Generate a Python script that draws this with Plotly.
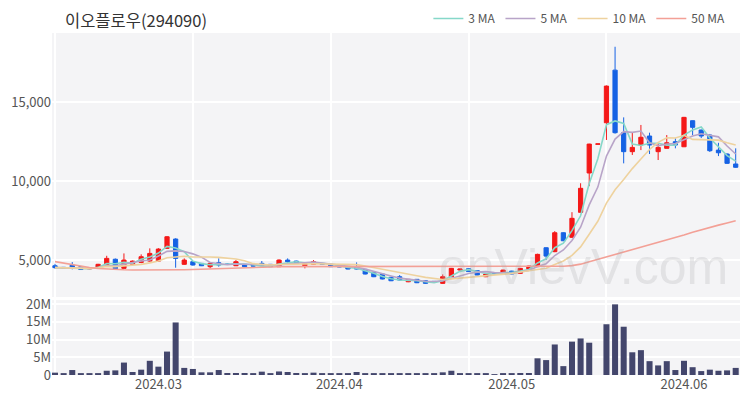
import plotly.graph_objects as go
import pandas as pd

# ---- data ----
opens = [4640, 4540, 4680, 4580, 4440, 4475, 4685, 5050, 4475, 4730,
         4850, 4935, 4935, 5740, 6330, 4730, 4895, 4790, 4580, 4830,
         4750, 4640, 4730, 4660, 4790, 4730, 4580, 5000, 4935, 4640,
         4730, 4760, 4730, 4600, 4580, 4580, 4410, 4220, 4115, 3905,
         3945, 3625, 3780, 3690, 3650, 3525, 3945, 4370, 4450, 4330,
         3945, 4180, 4200, 4300, 4160, 4410, 4580, 5780, 5530, 6730,
         6440, 8020, 10510, 12330, 13690, 17020, 13060, 11860, 12280, 12850,
         11860, 12070, 12490, 12170, 13820, 13230, 12910, 11960, 11710, 11080]
highs = [4760, 4560, 4870, 4600, 4510, 4760, 5270, 5100, 5420, 4970,
         5360, 5740, 5750, 6520, 6380, 5105, 4940, 4810, 4810, 5105,
         4770, 5000, 4750, 4680, 4940, 4750, 5040, 5105, 4960, 4810,
         5000, 4780, 4750, 4620, 4600, 4850, 4430, 4240, 4130, 3920,
         4050, 3800, 3800, 3710, 3670, 4090, 4500, 4440, 4500, 4350,
         4130, 4200, 4390, 4320, 4500, 4640, 5400, 5800, 6830, 6750,
         8030, 9860, 12360, 12350, 16050, 18500, 14030, 13060, 13550, 13060,
         12390, 12910, 12700, 14060, 13830, 13250, 12980, 12420, 11750, 12070]
lows = [4450, 4480, 4410, 4370, 4420, 4450, 4650, 4400, 4450, 4700,
        4800, 4900, 4900, 5700, 4515, 4700, 4650, 4620, 4475, 4580,
        4700, 4620, 4560, 4600, 4620, 4560, 4560, 4790, 4770, 4475,
        4700, 4700, 4560, 4550, 4410, 4410, 4090, 3920, 3780, 3670,
        3710, 3600, 3540, 3500, 3600, 3500, 3920, 4320, 4250, 4030,
        3920, 4130, 4180, 4090, 4140, 4390, 4560, 5000, 5500, 6200,
        6400, 7990, 9680, 12330, 12600, 13000, 11120, 11650, 11960, 11710,
        11330, 12070, 12070, 12150, 12910, 12720, 11840, 11580, 11080, 10840]
closes = [4520, 4500, 4470, 4400, 4480, 4730, 5105, 4450, 5000, 4935,
          5210, 5420, 5695, 6475, 5105, 5000, 4685, 4640, 4790, 4685,
          4720, 4895, 4580, 4620, 4640, 4580, 5000, 4895, 4790, 4790,
          4895, 4720, 4580, 4570, 4430, 4430, 4115, 3945, 3800, 3690,
          3735, 3780, 3565, 3525, 3620, 3945, 4475, 4430, 4270, 4050,
          4115, 4150, 4365, 4115, 4475, 4620, 5360, 5250, 6730, 6220,
          7640, 9540, 12340, 12350, 16010, 13060, 11860, 12130, 12770, 12280,
          12130, 12420, 12280, 14030, 13400, 12850, 11920, 11790, 11120, 10870]
volumes = [0.66, 0.47, 1.4, 0.5, 0.5, 0.5, 1.2, 1.3, 3.5, 0.85,
           1.5, 4.0, 2.35, 6.6, 14.8, 2.0, 1.7, 0.75, 0.75, 1.4,
           0.56, 0.56, 0.56, 0.28, 0.94, 0.28, 1.0, 0.85, 0.56, 0.47,
           0.66, 0.28, 0.28, 0.28, 0.47, 0.85, 0.47, 0.47, 0.47, 0.28,
           0.28, 0.28, 0.28, 0.28, 0.28, 0.75, 1.2, 0.37, 0.3, 0.3,
           0.3, 0.2, 0.37, 0.3, 0.56, 0.56, 4.7, 4.2, 8.6, 2.5,
           9.4, 10.3, 9.1, 0.0, 14.3, 19.9, 13.6, 6.4, 7.0, 3.9,
           2.7, 3.9, 1.4, 4.0, 2.2, 1.1, 1.5, 1.2, 1.3, 2.0]  # millions
ma50 = [4900, 4800, 4700, 4610, 4530, 4470, 4430, 4400, 4385, 4375,
        4370, 4370, 4370, 4375, 4380, 4390, 4400, 4420, 4445, 4470,
        4500, 4525, 4545, 4560, 4570, 4575, 4580, 4585, 4585, 4580,
        4580, 4585, 4590, 4585, 4580, 4575, 4575, 4580, 4580, 4585,
        4580, 4575, 4570, 4570, 4575, 4580, 4580, 4585, 4580, 4580,
        4575, 4575, 4580, 4580, 4580, 4585, 4585, 4590, 4600, 4610,
        4650, 4740, 4890, 5040, 5210, 5380, 5530, 5670, 5820, 5970,
        6110, 6260, 6410, 6590, 6760, 6920, 7070, 7210, 7350, 7490]
tick_pos = [12, 33, 53, 73]
tick_labels = ["2024.03", "2024.04", "2024.05", "2024.06"]
grid_pos = [0, 16, 32, 48, 64]
title_text = "이오플로우(294090)"

x = list(range(len(closes)))
s = pd.Series(closes, dtype=float)
ma3 = s.rolling(3, min_periods=1).mean()
ma5 = s.rolling(5, min_periods=1).mean()
ma10 = s.rolling(10, min_periods=1).mean()

RED = "#f41818"
BLUE = "#1662e4"
FONT = "Noto Sans CJK KR, Noto Sans, sans-serif"

fig = go.Figure()
fig.add_trace(go.Candlestick(
    x=x, open=opens, high=highs, low=lows, close=closes,
    increasing=dict(line=dict(color=RED, width=1), fillcolor=RED),
    decreasing=dict(line=dict(color=BLUE, width=1), fillcolor=BLUE),
    whiskerwidth=0, showlegend=False, xaxis="x", yaxis="y"))

ma_specs = [("3 MA", ma3, "#86d8c9"), ("5 MA", ma5, "#b8a4c8"),
            ("10 MA", ma10, "#eed29e"), ("50 MA", ma50, "#f3a096")]
for name, vals, col in ma_specs:
    fig.add_trace(go.Scatter(x=x, y=list(vals), mode="lines", name=name,
                             line=dict(color=col, width=1.6),
                             xaxis="x", yaxis="y"))

fig.add_trace(go.Bar(x=x, y=[v * 1e6 for v in volumes], marker_color="#43466c",
                     marker_line_width=0, showlegend=False,
                     xaxis="x2", yaxis="y2"))

# page body has an 8px margin: figure is 742x392 so the plot lands at 52..740 x 33..375
W, H = 742, 392
xr = [-0.35, 79.5]
minor_grid = dict(tickmode="array", tickvals=grid_pos, showgrid=True,
                  gridcolor="white", gridwidth=1.5, ticks="")
fig.update_layout(
    width=W, height=H,
    margin=dict(l=44, r=10, t=25, b=25, autoexpand=False),
    paper_bgcolor="white", plot_bgcolor="#f4f4f6",
    font=dict(family=FONT, color="#555555", size=12),
    title=dict(text=title_text, x=57 / W, xanchor="left", xref="container",
               y=1 - 13 / H, yanchor="middle", yref="container",
               pad=dict(t=0, b=0, l=0, r=0),
               font=dict(size=16.5, color="#333333", family=FONT)),
    showlegend=True,
    legend=dict(orientation="h", x=0.986, xanchor="right", y=1.0, yanchor="bottom",
                font=dict(size=12, color="#555555"), bgcolor="rgba(0,0,0,0)",
                itemwidth=30, tracegroupgap=0),
    bargap=0.3,
    xaxis=dict(domain=[0, 1], range=xr, anchor="y", showticklabels=False,
               showgrid=False, zeroline=False, rangeslider=dict(visible=False),
               minor=minor_grid, showline=False),
    yaxis=dict(domain=[0.228, 1], range=[2660, 19370], tickvals=[5000, 10000, 15000],
               tickformat=",", showgrid=True, gridcolor="white", gridwidth=1.5,
               zeroline=False, tickfont=dict(size=13), ticks=""),
    xaxis2=dict(domain=[0, 1], range=xr, anchor="y2", matches="x",
                tickmode="array", tickvals=tick_pos, ticktext=tick_labels,
                showgrid=False, zeroline=False, minor=minor_grid,
                tickfont=dict(size=13), ticks=""),
    yaxis2=dict(domain=[0, 0.219], range=[0, 21.1e6],
                tickvals=[0, 5e6, 10e6, 15e6, 20e6],
                ticktext=["0", "5M", "10M", "15M", "20M"],
                showgrid=True, gridcolor="white", gridwidth=1.5, zeroline=False,
                tickfont=dict(size=13), ticks=""),
    annotations=[dict(text="onVievV.com", x=0.985, y=0.228, xref="paper", yref="paper",
                      xanchor="right", yanchor="bottom", showarrow=False,
                      font=dict(size=50, color="rgba(170,170,175,0.25)",
                                family="Arial, Liberation Sans, sans-serif"))],
)

fig.write_html("out.html")
